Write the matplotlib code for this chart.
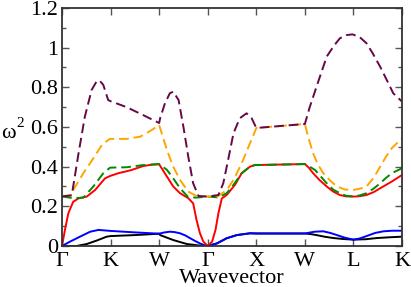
import numpy as np
import matplotlib
matplotlib.use("Agg")
import matplotlib.pyplot as plt
from matplotlib.ticker import MultipleLocator

# path positions (one unit per segment: G K W G X W L K)
tick_pos = [0, 1, 2, 3, 4, 5, 6, 7]
tick_labels = ["Γ", "K", "W", "Γ", "X", "W", "L", "K"]

# band 6 (maroon dashed)
x_purple = [0, 0.2, 0.23, 0.34, 0.47, 0.61, 0.71, 0.77, 0.85, 0.95, 1.0, 1.33, 1.67, 2.0,
            2.02, 2.12, 2.22, 2.29, 2.40, 2.50, 2.60, 2.70, 2.81, 3.0,
            3.22, 3.32, 3.42, 3.53, 3.66, 3.80, 3.905, 4.0, 5.0,
            5.1, 5.24, 5.45, 5.6, 5.72, 5.85, 5.98, 6.12, 6.27, 6.4, 6.55, 6.7, 6.82, 7.0]
y_purple = [0.25, 0.255, 0.30, 0.467, 0.652, 0.787, 0.829, 0.835, 0.812, 0.736, 0.73, 0.70, 0.66, 0.62,
            0.644, 0.72, 0.77, 0.778, 0.736, 0.60, 0.45, 0.316, 0.252, 0.249,
            0.257, 0.316, 0.434, 0.568, 0.644, 0.669, 0.644, 0.595, 0.615,
            0.70, 0.803, 0.955, 1.01, 1.047, 1.063, 1.067, 1.055, 1.022, 0.97, 0.904, 0.83, 0.77, 0.728]

# band 5 (orange dashed)
x_orange = [0, 0.2, 0.23, 0.44, 0.645, 0.82, 0.97, 1.0, 1.33, 1.61, 1.85, 2.0,
            2.16, 2.29, 2.43, 2.60, 2.77, 3.0,
            3.22, 3.39, 3.53, 3.70, 3.87, 3.97, 4.0, 5.0,
            5.08, 5.17, 5.27, 5.38, 5.52, 5.66, 5.82, 5.98, 6.12, 6.27, 6.42, 6.55, 6.67, 6.79, 7.0]
y_orange = [0.25, 0.258, 0.282, 0.367, 0.442, 0.509, 0.538, 0.54, 0.54, 0.551, 0.585, 0.61,
            0.484, 0.40, 0.333, 0.274, 0.252, 0.249,
            0.252, 0.282, 0.333, 0.417, 0.518, 0.576, 0.595, 0.615,
            0.54, 0.467, 0.41, 0.367, 0.33, 0.30, 0.285, 0.282, 0.288, 0.30, 0.345, 0.40, 0.45, 0.493, 0.543]

# band 4 (green dashed)
x_green = [0, 0.23, 0.44, 0.645, 0.85, 0.99, 1.33, 1.67, 2.0,
           2.16, 2.29, 2.43, 2.60, 2.77, 3.0,
           3.22, 3.39, 3.53, 3.70, 3.87, 3.97, 5.0,
           5.1, 5.21, 5.33, 5.45, 5.58, 5.72, 5.85, 6.0, 6.13, 6.27, 6.42, 6.55, 6.67, 6.79, 7.0]
y_green = [0.25, 0.241, 0.244, 0.30, 0.367, 0.395, 0.397, 0.408, 0.413,
           0.384, 0.341, 0.291, 0.246, 0.244, 0.249,
           0.245, 0.266, 0.308, 0.367, 0.40, 0.408, 0.413,
           0.40, 0.383, 0.35, 0.316, 0.285, 0.266, 0.253, 0.25, 0.255, 0.266, 0.29, 0.316, 0.343, 0.367, 0.392]

# band 3 (red)
x_red = [0, 0.06, 0.13, 0.23, 0.34, 0.51, 0.68, 0.885, 0.99, 1.16, 1.3, 1.43, 1.55, 1.67, 1.85, 2.0,
         2.16, 2.29, 2.43, 2.60, 2.70, 2.77, 2.84, 2.91, 3.0,
         3.09, 3.16, 3.22, 3.29, 3.39, 3.56, 3.70, 3.87, 3.97, 5.0,
         5.08, 5.17, 5.3, 5.45, 5.58, 5.72, 5.85, 6.0, 6.13, 6.27, 6.42, 6.55, 6.67, 6.79, 7.0]
y_red = [0, 0.081, 0.165, 0.223, 0.24, 0.249, 0.282, 0.341, 0.353, 0.367, 0.375, 0.383, 0.393, 0.403, 0.41, 0.412,
         0.35, 0.30, 0.266, 0.241, 0.215, 0.131, 0.064, 0.022, 0,
         0.022, 0.081, 0.165, 0.24, 0.257, 0.308, 0.367, 0.40, 0.408, 0.413,
         0.395, 0.367, 0.333, 0.30, 0.275, 0.257, 0.25, 0.249, 0.251, 0.257, 0.272, 0.291, 0.308, 0.325, 0.358]

# band 2 (blue)
x_blue = [0, 0.165, 0.37, 0.58, 0.75, 1.0, 1.47, 2.0,
          2.1, 2.22, 2.32, 2.43, 2.54, 2.64, 2.75, 2.84, 2.93, 3.0,
          3.19, 3.39, 3.60, 3.87, 4.0, 5.0,
          5.2, 5.38, 5.52, 5.66, 5.82, 6.0, 6.13, 6.27, 6.45, 6.62, 6.8, 7.0]
y_blue = [0, 0.022, 0.047, 0.072, 0.081, 0.076, 0.069, 0.062,
          0.068, 0.072, 0.07, 0.064, 0.053, 0.039, 0.024, 0.013, 0.004, 0,
          0.013, 0.039, 0.055, 0.064, 0.063, 0.063,
          0.072, 0.074, 0.066, 0.055, 0.042, 0.032, 0.038, 0.05, 0.066, 0.074, 0.077, 0.077]

# band 1 (black)
x_black = [0, 0.3, 0.51, 0.71, 0.92, 1.0, 1.5, 2.0,
           2.02, 2.29, 2.57, 2.8, 3.0,
           3.19, 3.39, 3.60, 3.87, 4.0, 5.0,
           5.12, 5.24, 5.4, 5.59, 5.8, 6.0, 6.25, 6.48, 6.75, 7.0]
y_black = [0, 0.0, 0.01, 0.027, 0.047, 0.05, 0.055, 0.062,
           0.055, 0.030, 0.01, 0.003, 0,
           0.013, 0.039, 0.055, 0.064, 0.063, 0.063,
           0.06, 0.055, 0.047, 0.040, 0.035, 0.032, 0.034, 0.040, 0.044, 0.047]

plt.rcParams['font.family'] = ['Liberation Serif', 'DejaVu Serif']

fig = plt.figure(figsize=(4.11, 2.87), dpi=100)
ax = fig.add_axes([0.1509, 0.1429, 0.8272, 0.8293])

lw = 1.4
dash = (5, 2.5)
ax.plot(x_black, y_black, color='black', lw=lw)
ax.plot(x_blue, y_blue, color='#0000ff', lw=lw)
ax.plot(x_red, y_red, color='#ff0000', lw=lw)
ax.plot(x_green, y_green, color='#008b00', lw=lw, dashes=dash)
ax.plot(x_orange, y_orange, color='#ffa500', lw=lw, dashes=dash)
ax.plot(x_purple, y_purple, color='#670748', lw=lw, dashes=dash)

ax.set_xlim(0, 7)
ax.set_ylim(0, 1.2)
ax.set_xticks(tick_pos)
ax.set_xticklabels(tick_labels, fontsize=16)
ax.set_yticks([0, 0.2, 0.4, 0.6, 0.8, 1.0, 1.2])
ax.set_yticklabels(["0", "0.2", "0.4", "0.6", "0.8", "1", "1.2"], fontsize=16)
ax.yaxis.set_minor_locator(MultipleLocator(0.1))
ax.tick_params(which='both', direction='in', top=True, right=True, color='#555555')
ax.tick_params(which='major', length=5, width=1)
ax.tick_params(which='minor', length=3, width=1)
ax.tick_params(axis='x', pad=4)
ax.tick_params(axis='y', pad=3)
for s in ax.spines.values():
    s.set_linewidth(1.3)
    s.set_color('#333333')

fig.text(0.5645, 4 / 287, "Wavevector", fontsize=16, ha='center', va='baseline')
fig.text(1 / 411, 1 - 138 / 287, "ω", fontsize=16, ha='left', va='baseline')
fig.text(16 / 411, 1 - 127 / 287, "2", fontsize=11, ha='left', va='baseline')

fig.savefig("out.png", dpi=100)
